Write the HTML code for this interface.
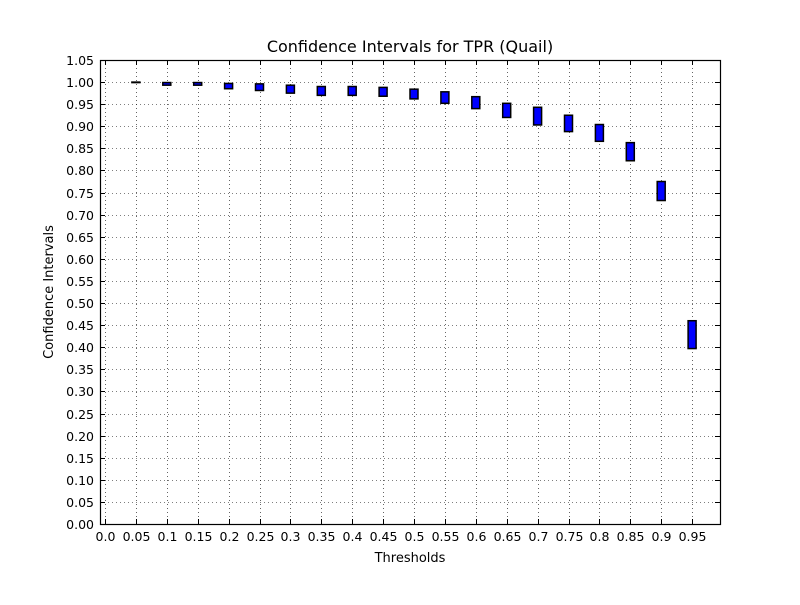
<!DOCTYPE html>
<html><head><meta charset="utf-8"><style>
body{margin:0;background:#fff}
text{font-family:"DejaVu Sans","Liberation Sans",sans-serif;fill:#000}
</style></head><body>
<svg id="chart" width="800" height="600" xmlns="http://www.w3.org/2000/svg">
<rect x="0" y="0" width="800" height="600" fill="#fff"/>
<text x="410" y="52" font-size="16" text-anchor="middle">Confidence Intervals for TPR (Quail)</text>
<text x="410" y="562" font-size="13" text-anchor="middle">Thresholds</text>
<text x="0" y="0" font-size="13" text-anchor="middle" transform="translate(53,292) rotate(-90)">Confidence Intervals</text>
<g id="grid"></g><g id="boxes"></g><g id="ticks"></g>
<rect x="100.5" y="60.5" width="620" height="464" fill="none" stroke="#000" stroke-width="1.2"/>
</svg>
<script>
const categories=[0.05,0.1,0.15,0.2,0.25,0.3,0.35,0.4,0.45,0.5,0.55,0.6,0.65,0.7,0.75,0.8,0.85,0.9,0.95];
const lows=[0.999,0.993,0.993,0.985,0.981,0.975,0.970,0.970,0.968,0.962,0.952,0.940,0.920,0.903,0.888,0.866,0.822,0.732,0.397];
const highs=[1.000,0.999,0.999,0.997,0.996,0.993,0.990,0.990,0.988,0.984,0.978,0.967,0.952,0.943,0.925,0.904,0.863,0.775,0.460];
const xTickLabels=["0.0","0.05","0.1","0.15","0.2","0.25","0.3","0.35","0.4","0.45","0.5","0.55","0.6","0.65","0.7","0.75","0.8","0.85","0.9","0.95"];
const yTickLabels=["0.00","0.05","0.10","0.15","0.20","0.25","0.30","0.35","0.40","0.45","0.50","0.55","0.60","0.65","0.70","0.75","0.80","0.85","0.90","0.95","1.00","1.05"];
const NS="http://www.w3.org/2000/svg";
function xs(v){return 105+v*618;}
function ys(v){return 524-v*(464/1.05);}
function mk(t,a,p){const e=document.createElementNS(NS,t);for(const k in a)e.setAttribute(k,a[k]);p.appendChild(e);return e;}
const grid=document.getElementById('grid'),ticks=document.getElementById('ticks'),boxes=document.getElementById('boxes');
xTickLabels.forEach(l=>{const x=Math.round(xs(parseFloat(l)))+0.5;
 const g=mk('line',{x1:x,x2:x,y1:60,y2:524,stroke:'#000','stroke-width':0.6,'stroke-dasharray':'1,3'},grid);
 
 mk('line',{x1:x,x2:x,y1:524,y2:519,stroke:'#000'},ticks);mk('line',{x1:x,x2:x,y1:60,y2:65,stroke:'#000'},ticks);
 const t=mk('text',{x:x,y:541,'font-size':12.5,'text-anchor':'middle'},ticks);t.textContent=l;
 });
yTickLabels.forEach(l=>{const y=Math.round(ys(parseFloat(l)))+0.5;
 const g=mk('line',{x1:100,x2:720,y1:y,y2:y,stroke:'#000','stroke-width':0.6,'stroke-dasharray':'1,3'},grid);
 
 mk('line',{x1:100,x2:105,y1:y,y2:y,stroke:'#000'},ticks);mk('line',{x1:720,x2:715,y1:y,y2:y,stroke:'#000'},ticks);
 const t=mk('text',{x:94,y:y+4.5,'font-size':12.5,'text-anchor':'end'},ticks);t.textContent=l;
 });
categories.forEach((c,i)=>{const x=xs(c),y1=ys(highs[i]),y0=ys(lows[i]);
 const r=mk('rect',{x:x-4,y:y1,width:8,height:Math.max(0.5,y0-y1),fill:'#0000ff',stroke:'#000','stroke-width':1.5},boxes);
 });
</script>
</body></html>
